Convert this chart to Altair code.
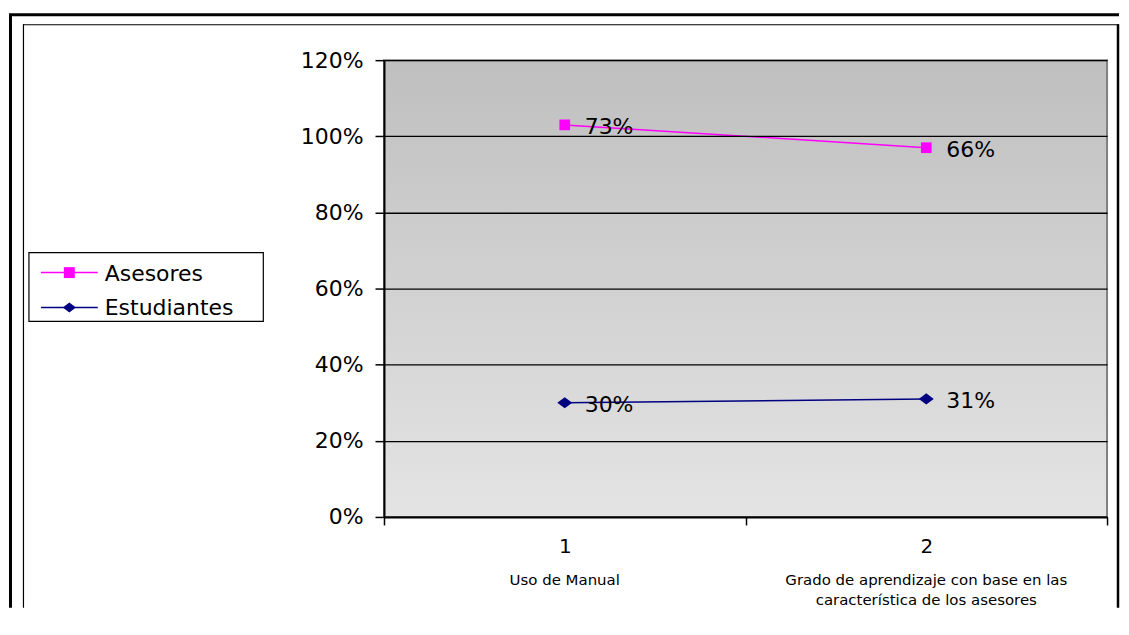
import altair as alt
import pandas as pd

# ---- data ----
categories = ["1", "2"]
descriptions = [
    "Uso de Manual",
    "Grado de aprendizaje con base en las\ncaracterística de los asesores",
]
series = ["Asesores", "Estudiantes"]
asesores = [0.73, 0.66]
estudiantes = [0.30, 0.31]
y_ticks = [0, 0.2, 0.4, 0.6, 0.8, 1.0, 1.2]
colors = ["#FF00FF", "#000080"]
marker_shapes = ["square", "M-1.2,0L0,-0.9L1.2,0L0,0.9Z"]

rows = []
for i, c in enumerate(categories):
    rows.append({"cat": c, "series": "Estudiantes", "value": estudiantes[i], "ord": 0})
    rows.append({"cat": c, "series": "Asesores", "value": asesores[i], "ord": 1})
df = pd.DataFrame(rows)
desc_df = pd.DataFrame({"cat": categories, "desc": descriptions})
legend_df = pd.DataFrame({"series": series})

W, H = 725, 458
FONT = "DejaVu Sans"

x_enc = alt.X(
    "cat:N",
    bandPosition=0.5,
    scale=alt.Scale(type="band", domain=categories, paddingInner=0, paddingOuter=0),
    axis=alt.Axis(title=None, labelAngle=0, tickBand="extent", tickSize=8, tickWidth=1.5,
                  domainWidth=2, labelFontSize=20, labelPadding=12, grid=False, zindex=1),
)
y_enc = alt.Y(
    "y1:Q",
    scale=alt.Scale(domain=[0, 1.2], nice=False, zero=True),
    axis=alt.Axis(title=None, values=y_ticks, format=".0%", tickSize=9, tickWidth=1.5,
                  domainWidth=2, grid=True, gridColor="black", gridWidth=1.3,
                  labelFontSize=22, labelPadding=12, zindex=1),
)
color_enc = alt.Color("series:N", scale=alt.Scale(domain=series, range=colors), legend=None)
shape_enc = alt.Shape("series:N", scale=alt.Scale(domain=series, range=marker_shapes), legend=None)

base = alt.Chart(df).transform_stack(
    stack="value", groupby=["cat"], as_=["y0", "y1"],
    sort=[alt.SortField("ord", order="ascending")],
)

lines = base.mark_line(strokeWidth=1.5).encode(x=x_enc, y=y_enc, color=color_enc)
squares = base.transform_filter(alt.datum.series == "Asesores").mark_square(
    size=115, opacity=1).encode(x=x_enc, y=y_enc, color=color_enc)
diamonds = base.transform_filter(alt.datum.series == "Estudiantes").mark_point(
    shape=marker_shapes[1], filled=True, size=156, opacity=1
).encode(x=x_enc, y=y_enc, color=color_enc)
labels = base.mark_text(align="left", baseline="middle", dx=20, dy=2, fontSize=22,
                        font=FONT, color="black").encode(
    x=x_enc, y=y_enc, text=alt.Text("value:Q", format=".0%"))

descs = alt.Chart(desc_df).mark_text(
    baseline="top", align="center", fontSize=15, font=FONT, lineBreak="\n",
    lineHeight=20, color="black"
).encode(x=x_enc, y=alt.value(514), text="desc:N")

one = alt.Data(values=[{"k": 0}])
plot_bg = alt.Chart(one).mark_rect(
    fill=alt.LinearGradient(gradient="linear", x1=0, y1=0, x2=0, y2=1,
                            stops=[alt.GradientStop(color="#bfbfbf", offset=0),
                                   alt.GradientStop(color="#e4e4e4", offset=1)]),
    stroke="#808080", strokeWidth=2,
).encode(x=alt.value(0), x2=alt.value(W), y=alt.value(0), y2=alt.value(H))

main = alt.layer(plot_bg, lines, squares, diamonds, labels, descs)

# ---- legend (own point scale for the rows) ----
leg_y = alt.Y("series:N", scale=alt.Scale(type="point", domain=series, range=[213, 248], padding=0),
              axis=None)
legend_box = alt.Chart(one).mark_rect(fill="white", stroke="black", strokeWidth=1.2).encode(
    x=alt.value(-356), x2=alt.value(-121), y=alt.value(193), y2=alt.value(262))
leg_lines = alt.Chart(legend_df).mark_rule(strokeWidth=1.5).encode(
    x=alt.value(-344), x2=alt.value(-287), y=leg_y, color=color_enc)
leg_marks = alt.Chart(legend_df).mark_point(filled=True, opacity=1, size=120).encode(
    x=alt.value(-315.5), y=leg_y, color=color_enc, shape=shape_enc)
leg_text = alt.Chart(legend_df).mark_text(align="left", baseline="middle", dy=1, fontSize=22,
                                          font=FONT, color="black").encode(
    x=alt.value(-280), y=leg_y, text="series:N")
legend_part = alt.layer(legend_box, leg_lines, leg_marks, leg_text)

def hline(x1, x2, y, w):
    return alt.Chart(one).mark_rule(color="black", strokeWidth=w).encode(
        x=alt.value(x1), x2=alt.value(x2), y=alt.value(y))
def vline(x, y1, y2, w):
    return alt.Chart(one).mark_rule(color="black", strokeWidth=w).encode(
        x=alt.value(x), y=alt.value(y1), y2=alt.value(y2))

frames = [
    hline(-376, 737, -45.5, 3),
    vline(-374.5, -45.5, 549, 3),
    hline(-362, 737, -35.5, 1.2),
    vline(-361.5, -36, 549, 1.2),
    vline(736, -36, 549, 2.5),
]

chart = alt.layer(
    *frames, main, legend_part
).resolve_scale(
    y="independent"
).properties(
    width=W, height=H, padding={"left": -1, "top": 4.5, "right": 0, "bottom": 0}
).configure_view(
    stroke=None
).configure_axis(
    labelFont=FONT, labelColor="black", domainColor="black", tickColor="black"
)

chart.save("out.html", embed_options={"renderer": "svg", "actions": False})
